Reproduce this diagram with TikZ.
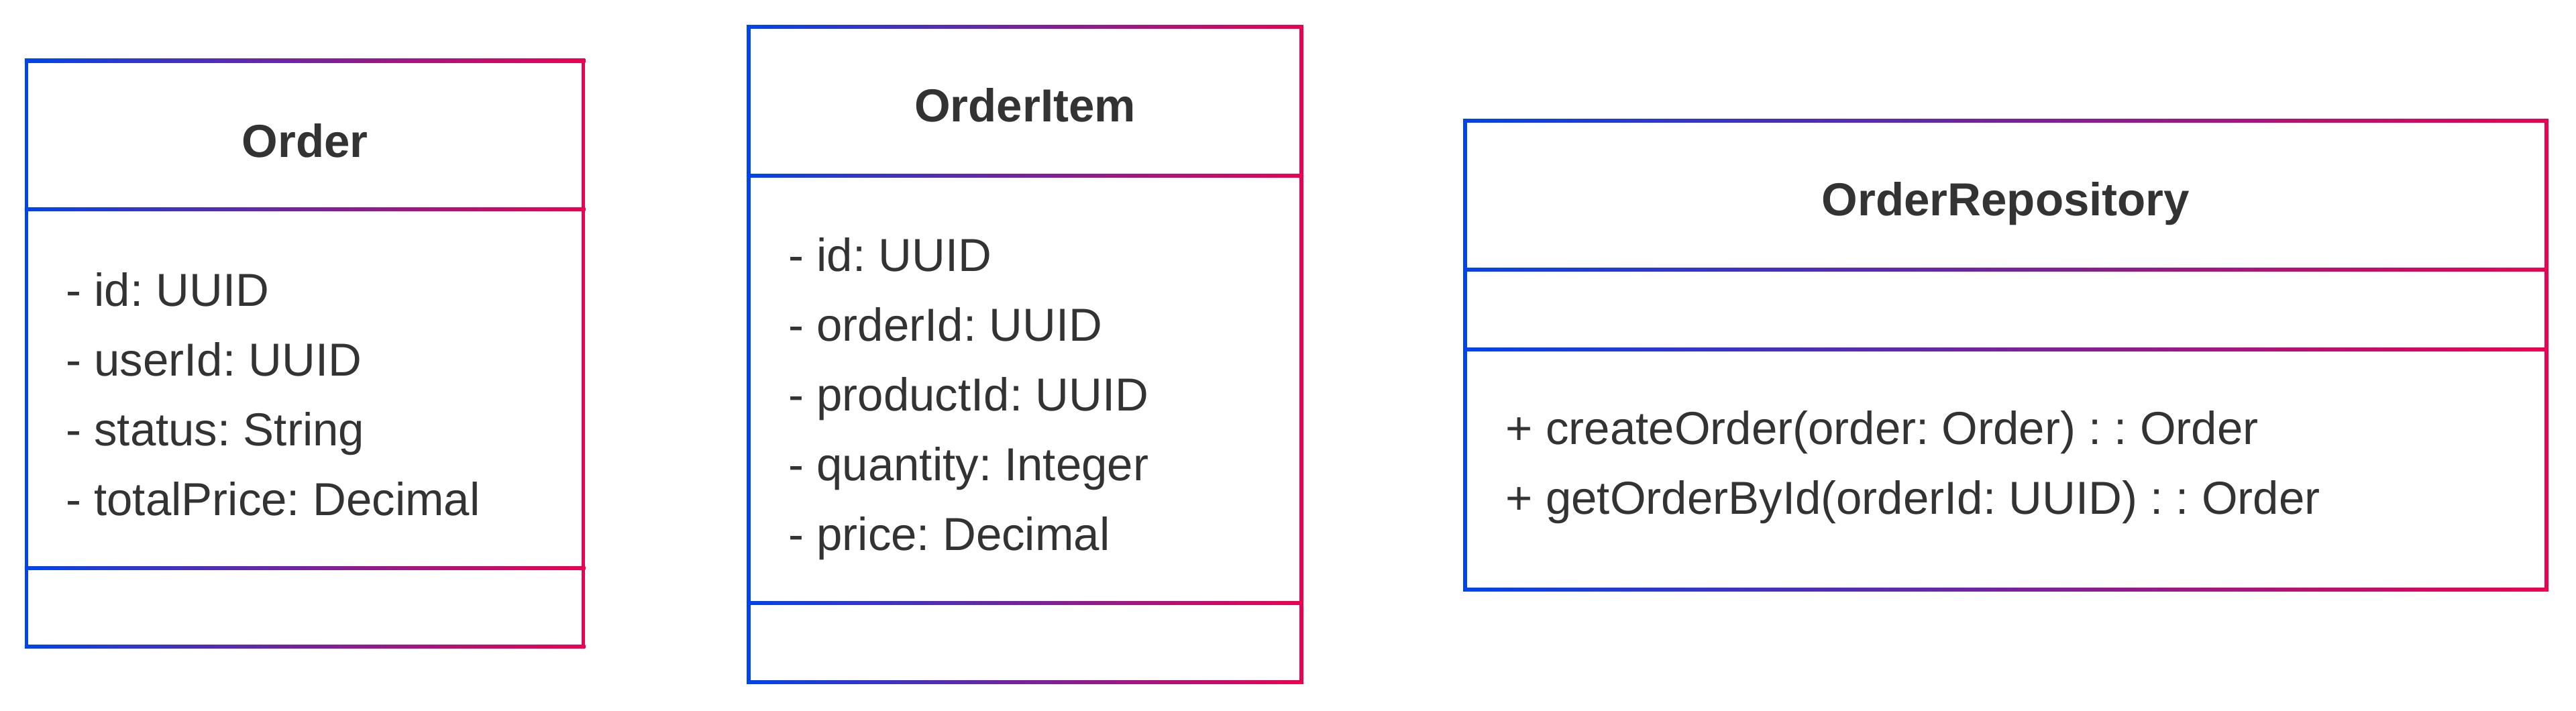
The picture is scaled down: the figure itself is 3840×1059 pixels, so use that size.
\documentclass[tikz,border=0pt]{standalone}
\usepackage{fontspec}
\setmainfont{Liberation Sans}
\frenchspacing
\definecolor{cblue}{HTML}{0044EE}
\definecolor{cred}{HTML}{EE0050}
\definecolor{txt}{HTML}{333333}
% #1 name, #2 x-left, #3 x-right, #4 y-top, #5 divider 1, #6 divider 2, #7 y-bottom
\newcommand\umlframe[7]{%
  \coordinate (#1-nw) at (#2,#4);
  \coordinate (#1-se) at (#3,#7);
  \coordinate (#1-d1) at (#2,#5);
  \coordinate (#1-d2) at (#2,#6);
  \foreach \yy in {#4,#5,#6,#7}{%
    \shade[gline] (#2-2.75,\yy-2.75) rectangle (#3+2.75,\yy+2.75);
  }
  \fill[cblue] (#2-2.75,#4-2.75) rectangle (#2+2.75,#7+2.75);
  \fill[cred] (#3-2.75,#4-2.75) rectangle (#3+2.75,#7+2.75);
}
\begin{document}
\begin{tikzpicture}[x=0.25pt,y=-0.25pt,
  gline/.style={left color=cblue,right color=cred},
  attr/.style={anchor=base west,inner sep=0pt,text=txt,font=\fontsize{17.25}{21}\selectfont\frenchspacing},
  title/.style={anchor=base,inner sep=0pt,text=txt,font=\fontsize{17.25}{21}\selectfont\bfseries}]
\useasboundingbox (0,0) rectangle (3840,1059);
\fill[white] (0,0) rectangle (3840,1059);

% Order
\umlframe{order}{39.5}{869.5}{90.5}{312}{847}{964}
\node[title] (order-title) at (454.5,235) {Order};
\node[attr] (order-a1) at (97.5,456) {- id: UUID};
\node[attr] (order-a2) at (97.5,560) {- userId: UUID};
\node[attr] (order-a3) at (97.5,664) {- status: String};
\node[attr] (order-a4) at (97.5,768) {- totalPrice: Decimal};

% OrderItem
\umlframe{item}{1116}{1940}{40}{262}{899}{1017}
\node[title] (item-title) at (1528,181) {OrderItem};
\node[attr] (item-a1) at (1174.5,404) {- id: UUID};
\node[attr] (item-a2) at (1174.5,508) {- orderId: UUID};
\node[attr] (item-a3) at (1174.5,612) {- productId: UUID};
\node[attr] (item-a4) at (1174.5,716) {- quantity: Integer};
\node[attr] (item-a5) at (1174.5,820) {- price: Decimal};

% OrderRepository
\umlframe{repo}{2184}{3796}{180}{402}{521}{879}
\node[title] (repo-title) at (2990,321) {OrderRepository};
\node[attr] (repo-m1) at (2244,662) {+ createOrder(order: Order) : : Order};
\node[attr] (repo-m2) at (2244,766) {+ getOrderById(orderId: UUID) : : Order};
\end{tikzpicture}
\end{document}
